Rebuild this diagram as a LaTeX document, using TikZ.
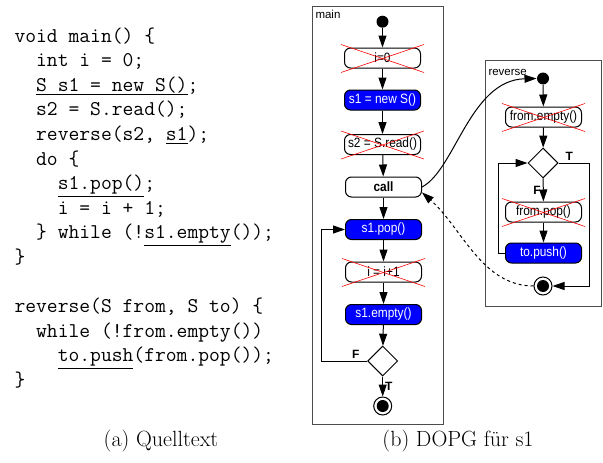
\documentclass[tikz,border=0pt]{standalone}
\usepackage{fontspec}
\newfontfamily\diafont{Liberation Sans}
\newfontfamily\boxfont[FakeStretch=0.88]{Liberation Sans}
\usetikzlibrary{arrows.meta,shapes.geometric,calc}
\newcommand{\codeul}[1]{\underline{#1\vphantom{()}}}

\begin{document}
\begin{tikzpicture}[x=1pt,y=1pt,
		>={Triangle[length=12pt,width=8pt]},
		every path/.style={line width=1pt},
		act/.style={draw,rounded corners=6pt,minimum width=76pt,minimum height=20pt,inner sep=1pt,font=\boxfont\fontsize{13.5}{15}\selectfont},
		used/.style={act,fill=blue,text=white},
		dead/.style={act,fill=white},
		choice/.style={draw,diamond,aspect=1,minimum width=30pt,minimum height=30pt,inner sep=0pt},
		initial/.style={circle,fill=black,minimum size=12pt,inner sep=0pt},
		final/.style={circle,draw,minimum size=18pt,inner sep=0pt,path picture={\fill (path picture bounding box.center) circle (6pt);}},
		frame/.style={draw=black!70,line width=0.8pt},
		framelbl/.style={anchor=west,inner sep=0pt,font=\diafont\fontsize{11.5}{13}\selectfont},
		guard/.style={inner sep=2pt,font=\diafont\bfseries\fontsize{12}{14}\selectfont},
		cross/.style={red,line width=0.6pt},
		caption/.style={font=\fontsize{22}{26}\selectfont}]
	\useasboundingbox (0,0) rectangle (603,-463);
	% source code
	\node[anchor=north west,inner sep=0pt,align=left,font=\ttfamily\fontsize{21}{24.6}\selectfont] (src) at (14,-27) {%
		void main() \{\\
		\ \ int i = 0;\\
		\ \ \codeul{S s1 = new S()};\\
		\ \ s2 = S.read();\\
		\ \ reverse(s2, \codeul{s1});\\
		\ \ do \{\\
		\ \ \ \ \codeul{s1.pop()};\\
		\ \ \ \ i = i + 1;\\
		\ \ \} while (!\codeul{s1.empty}());\\
		\}\\
		\mbox{}\\
		reverse(S from, S to) \{\\
		\ \ while (!from.empty())\\
		\ \ \ \ \codeul{to.push}(from.pop());\\
		\}};
	\node[caption] (capa) at (161,-441) {(a) Quelltext};
	\node[caption] (capb) at (458,-441) {(b) DOPG für s1};
	% main
	\draw[frame] (312,-6) rectangle (443,-424);
	\node[framelbl] (mlbl) at (315,-14.5) {main};
	\node[initial] (mstart) at (382.5,-21.7) {};
	\node[dead] (mi0) at (382.5,-58) {i=0};
	\node[used] (mnew) at (382.5,-100) {s1 = new S()};
	\node[dead] (mread) at (382.5,-144.5) {s2 = S.read()};
	\node[dead,font=\boxfont\bfseries\fontsize{13.5}{15}\selectfont] (mcall) at (383.5,-187) {call};
	\node[used] (mpop) at (383.5,-229.5) {s1.pop()};
	\node[dead] (minc) at (383.5,-272) {i = i+1};
	\node[used] (mempty) at (383.5,-314.5) {s1.empty()};
	\node[choice] (mdec) at (382.7,-361) {};
	\node[final] (mend) at (382.7,-406) {};
	\coordinate (mloop) at (321.5,-361);
	\draw[->] (mstart) -- (mi0);
	\draw[->] (mi0) -- (mnew);
	\draw[->] (mnew) -- (mread);
	\draw[->] (mread) -- (mcall);
	\draw[->] (mcall) -- (mpop);
	\draw[->] (mpop) -- (minc);
	\draw[->] (minc) -- (mempty);
	\draw[->] (mempty) -- (mdec);
	\draw[->] (mdec) -- node[guard,right] {T} (mend);
	\draw[->] (mdec.west) -- node[guard,pos=0.25,above] {F} (mloop) |- (mpop.west);
	% reverse
	\draw[frame] (485,-60) rectangle (601,-306);
	\node[framelbl] (rlbl) at (488,-72) {reverse};
	\node[initial] (rstart) at (543,-78.5) {};
	\node[dead] (rempty) at (543.5,-117) {from.empty()};
	\node[choice] (rdec) at (543,-163) {};
	\node[dead] (rpop) at (543.5,-212) {from.pop()};
	\node[used] (rpush) at (543.5,-253) {to.push()};
	\node[final] (rend) at (543,-286) {};
	\coordinate (rloop) at (498,-253);
	\coordinate (rexit) at (589,-163);
	\draw[->] (rstart) -- (rempty);
	\draw[->] (rempty) -- (rdec);
	\draw[->] (rdec) -- node[guard,left] {F} (rpop);
	\draw[->] (rpop) -- (rpush);
	\draw[->] (rpush.west) -- (rloop) |- (rdec.west);
	\draw[->] (rdec.east) -- node[guard,pos=0.35,above] {T} (rexit) |- (rend.east);
	% call and return
	\draw[->] (mcall.east) .. controls (455,-170) and (470,-80) .. (rstart.west);
	\draw[->,dashed] (rend.west) .. controls (482,-286) and (462,-228) .. (mcall.-8);
	% crossed out nodes
	\foreach \n in {mi0,mread,minc,rempty,rpop} {
		\draw[cross] ($(\n.north west)+(-3,3)$) -- ($(\n.south east)+(3,-4)$);
		\draw[cross] ($(\n.south west)+(-3,-4)$) -- ($(\n.north east)+(3,3)$);
	}
\end{tikzpicture}
\end{document}
